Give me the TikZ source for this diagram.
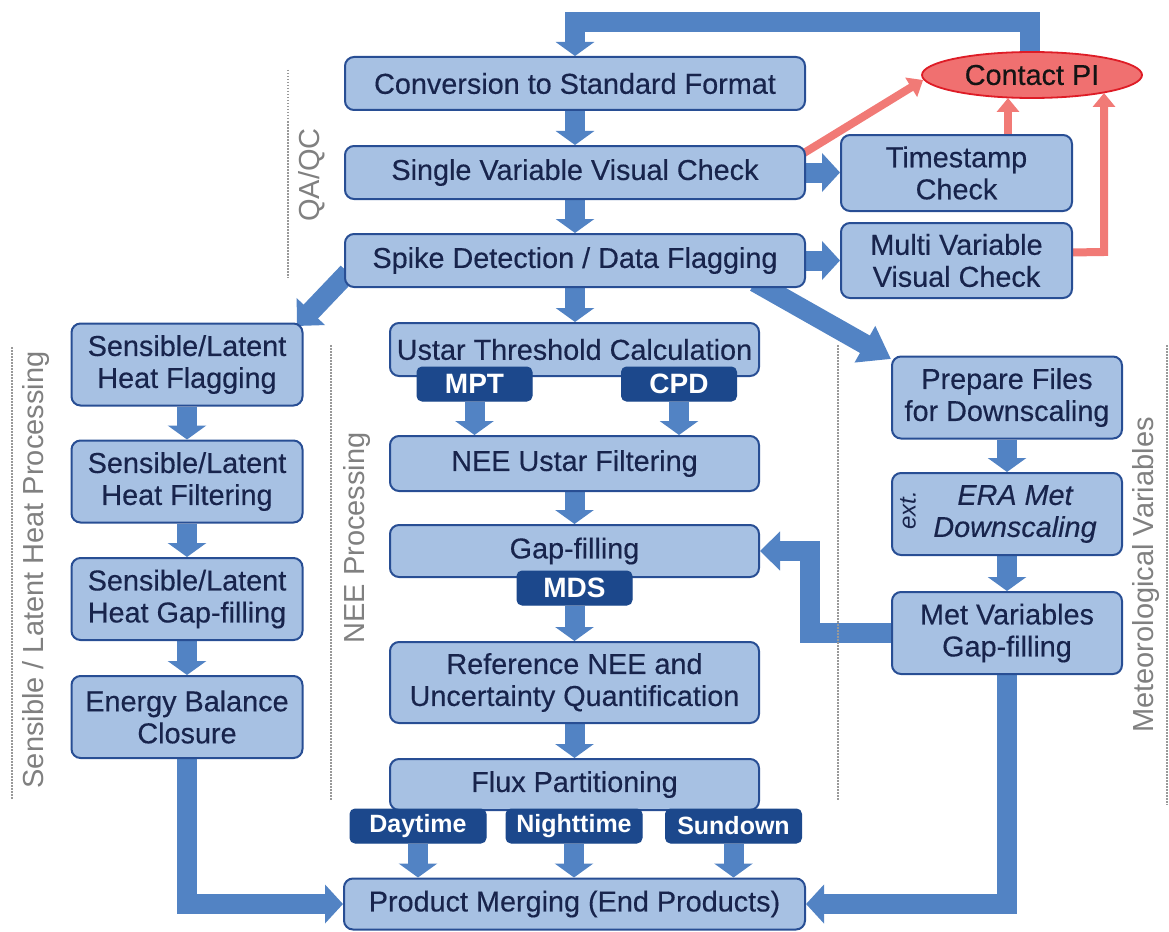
\documentclass[tikz,border=0pt]{standalone}
\usepackage{fontspec}
\setmainfont{Liberation Sans}
\newfontfamily\boxfont{Liberation Sans}[FakeBold=0.35]
\usetikzlibrary{arrows.meta,shapes.geometric,calc}
\pgfdeclarelayer{bg}
\pgfsetlayers{bg,main}
\definecolor{boxfill}{RGB}{167,193,227}
\definecolor{boxdraw}{RGB}{40,78,148}
\definecolor{arr}{RGB}{82,131,196}
\definecolor{tagc}{RGB}{28,72,140}
\definecolor{txt}{RGB}{24,36,76}
\definecolor{redfill}{RGB}{240,112,112}
\definecolor{reddraw}{RGB}{222,28,38}
\definecolor{redarr}{RGB}{241,122,118}
\definecolor{sidec}{RGB}{128,128,128}
\newcommand\fsz{\boxfont\fontsize{28.8}{32}\selectfont}
\tikzset{
  box/.style={draw=boxdraw, fill=boxfill, line width=2pt, rounded corners=9pt,
    text=txt, font=\fsz, align=center, inner sep=0pt},
  wide/.style={box, minimum width=460pt, minimum height=53pt},
  col/.style={box, minimum width=231pt, minimum height=82pt},
  mid/.style={box, minimum width=369pt},
  tag/.style={fill=tagc, draw=tagc, line width=1pt, rounded corners=5pt, text=white,
    inner sep=0pt, minimum height=34pt},
  tagA/.style={tag, font=\fontsize{28}{32}\selectfont\bfseries, minimum width=115pt},
  tagB/.style={tag, font=\fontsize{25}{30}\selectfont\bfseries, minimum width=136pt},
  barrow/.style={draw=arr, line width=20pt, -{Triangle[width=38pt,length=#1]}},
  barrow/.default=14pt,
  rarrow/.style={draw=redarr, line width=8pt, -{Triangle[width=22pt,length=14pt]}},
  sidelab/.style={rotate=90, anchor=base, text=sidec, font=\fontsize{29}{32}\selectfont},
  dotl/.style={draw=sidec!80, line width=1.5pt, dash pattern=on 1.5pt off 1.5pt}
}
\begin{document}
\begin{tikzpicture}[x=1pt,y=-1pt]
\useasboundingbox (0,0) rectangle (1169,931);

% QA/QC column
\node[wide] (conv)   at (575,83.5)  {Conversion to Standard Format};
\node[wide] (single) at (575,172.5) {Single Variable Visual Check};
\node[wide] (spike)  at (575,260.5) {Spike Detection / Data Flagging};
\node[draw=reddraw, fill=redfill, line width=1.8pt, ellipse, minimum width=220pt,
  minimum height=46pt, inner sep=0pt, font=\fsz, text={rgb,255:red,20;green,20;blue,20}]
  (contact) at (1032,75) {Contact PI};
\node[box, minimum width=231pt, minimum height=76pt] (ts) at (956.5,173) {Timestamp\\Check};
\node[box, minimum width=231pt, minimum height=75pt] (multi) at (956.5,260.5) {Multi Variable\\Visual Check};

% left column
\node[col] (slflag) at (187,364.5) {Sensible/Latent\\Heat Flagging};
\node[col] (slfilt) at (187,481.5) {Sensible/Latent\\Heat Filtering};
\node[col] (slgap)  at (187,599)   {Sensible/Latent\\Heat Gap-filling};
\node[col] (ebc)    at (187,717)   {Energy Balance\\Closure};

% middle column
\node[mid, minimum height=53pt] (ustar) at (574.5,349.5) {Ustar Threshold Calculation};
\node[mid, minimum height=55pt] (neef)  at (574.5,463.5) {NEE Ustar Filtering};
\node[mid, minimum height=52pt] (gapf)  at (574.5,551)   {Gap-filling};
\node[mid, minimum height=81pt] (ref)   at (574.5,682.5) {Reference NEE and\\Uncertainty Quantification};
\node[mid, minimum height=51pt] (flux)  at (574.5,784.5) {Flux Partitioning};
\node[wide, minimum width=461pt, minimum height=51pt] (prod) at (574.5,904) {Product Merging (End Products)};

\node[tagA] (mpt) at (474.5,384) {MPT};
\node[tagA] (cpd) at (679,384)   {CPD};
\node[tagA] (mds) at (574.5,588) {MDS};
\node[tagB] (day)   at (418,826)   {Daytime};
\node[tagB] (night) at (574,826)   {Nighttime};
\node[tagB] (sun)   at (733.5,826) {Sundown};

% right column
\node[col, minimum width=230pt] (prep) at (1007,397.5) {Prepare Files\\for Downscaling};
\node[col, minimum width=230pt] (era)  at (1007,514) {};
\node[text=txt, font=\fsz\itshape, align=center, inner sep=0pt] (eratxt) at (1015,514) {ERA Met\\Downscaling};
\node[rotate=90, text=txt, font=\fontsize{24}{28}\selectfont\itshape, inner sep=0pt] (ext) at (908,510) {ext.};
\node[col, minimum width=230pt] (metg) at (1007,633) {Met Variables\\Gap-filling};

% side labels and dotted separators
\node[sidelab] (labqa)  at (319,175) {QA/QC};
\node[sidelab] (labsl)  at (43,570)  {Sensible / Latent Heat Processing};
\node[sidelab] (labnee) at (364,538) {NEE Processing};
\node[sidelab] (labmet) at (1153,575) {Meteorological Variables};
\coordinate (d1a) at (288,70);   \coordinate (d1b) at (288,278);
\coordinate (d2a) at (12,347);   \coordinate (d2b) at (12,800);
\coordinate (d3a) at (331,345);  \coordinate (d3b) at (331,800);
\coordinate (d4a) at (838,345);  \coordinate (d4b) at (838,800);
\coordinate (d5a) at (1167,345); \coordinate (d5b) at (1167,805);
\draw[dotl] (d1a) -- (d1b);
\draw[dotl] (d2a) -- (d2b);
\draw[dotl] (d3a) -- (d3b);
\draw[dotl] (d4a) -- (d4b);
\draw[dotl] (d5a) -- (d5b);

\begin{pgfonlayer}{bg}
  % feedback loop
  \coordinate (fbA) at (1030,22);
  \coordinate (fbB) at (575,22);
  \draw[barrow] ($(contact.north -| fbA)+(0,10)$) -- (fbA) -- (fbB) -- (conv.north);
  % main column
  \draw[barrow] (conv.south) -- (single.north);
  \draw[barrow] (single.south) -- (spike.north);
  \draw[barrow] (spike.south) -- (spike.south |- ustar.north);
  \draw[barrow=18pt] (single.east) -- (single.east -| ts.west);
  \draw[barrow=18pt] (spike.east) -- (spike.east -| multi.west);
  % diagonals
  \coordinate (diagL) at (297,326);
  \coordinate (diagR) at (891,359);
  \draw[barrow=20pt] ($(spike.west)+(4,12)$) -- (diagL);
  \draw[draw=arr, line width=20pt, -{Triangle[width=40pt,length=30pt]}] (755,282) -- (diagR);
  % left column
  \draw[barrow] (slflag.south) -- (slfilt.north);
  \draw[barrow] (slfilt.south) -- (slgap.north);
  \draw[barrow] (slgap.south) -- (ebc.north);
  \coordinate (ebcc) at (ebc.south |- prod.west);
  \draw[barrow=18pt] (ebc.south) -- (ebcc) -- (prod.west);
  % middle column
  \draw[barrow] (mpt.south) -- (mpt.south |- neef.north);
  \draw[barrow] (cpd.south) -- (cpd.south |- neef.north);
  \draw[barrow] (neef.south) -- (gapf.north);
  \draw[barrow] (mds.south) -- (mds.south |- ref.north);
  \draw[barrow] (ref.south) -- (flux.north);
  \draw[barrow] (day.south) -- (day.south |- prod.north);
  \draw[barrow] (night.south) -- (night.south |- prod.north);
  \draw[barrow] (sun.south) -- (sun.south |- prod.north);
  % right column
  \draw[barrow] (prep.south) -- (era.north);
  \draw[barrow] (era.south) -- (metg.north);
  \coordinate (mgx) at (810,0);
  \draw[barrow=20pt] (metg.west) -- (metg.west -| mgx) -- (mgx |- gapf.east) -- (gapf.east);
  \coordinate (metc) at (metg.south |- prod.east);
  \draw[barrow=18pt] (metg.south) -- (metc) -- (prod.east);
  % red arrows
  \draw[rarrow] ($(single.north east)+(-2,8)$) -- ($(contact.west)+(2,5)$);
  \coordinate (tsx) at (1008,0);
  \draw[rarrow] (ts.north -| tsx) -- (1008,98);
  \coordinate (mvx) at (1104,252);
  \draw[rarrow] ($(multi.east)+(-4,-8)$) -- (mvx) -- (1104,93);
\end{pgfonlayer}
\end{tikzpicture}
\end{document}
